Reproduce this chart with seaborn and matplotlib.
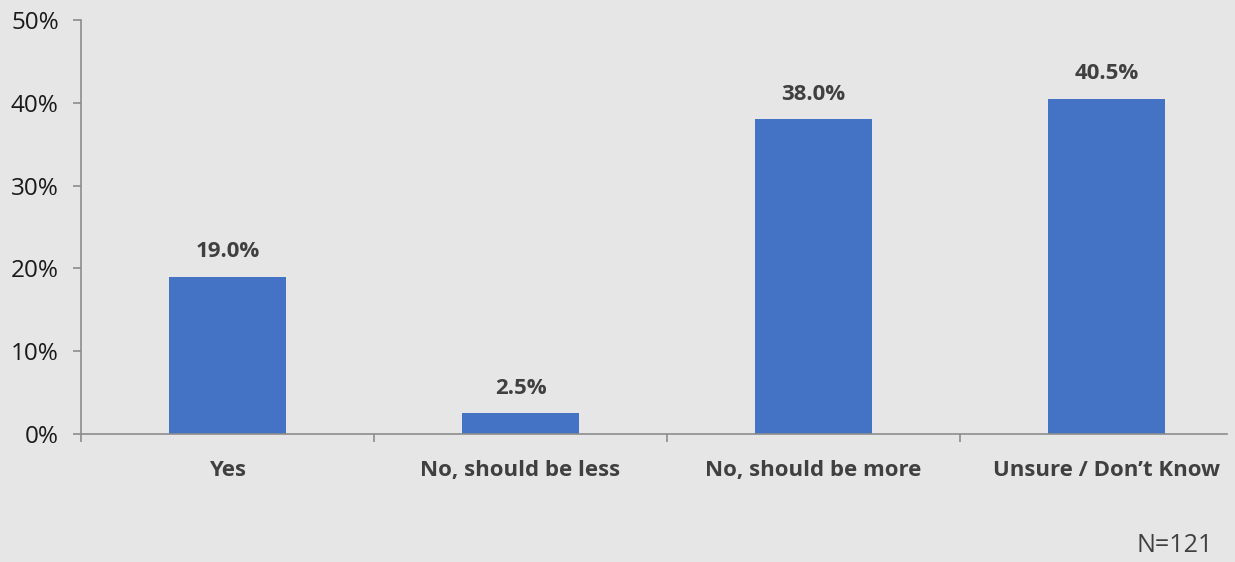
import matplotlib
matplotlib.use("Agg")
import matplotlib.pyplot as plt
import seaborn as sns
import pandas as pd
from matplotlib.ticker import FixedLocator, PercentFormatter

categories = ["Yes", "No, should be less", "No, should be more", "Unsure / Don\u2019t Know"]
values = [19.0, 2.5, 38.0, 40.5]
value_labels = ["19.0%", "2.5%", "38.0%", "40.5%"]
y_ticks = [0, 10, 20, 30, 40, 50]
note = "N=121"

sns.set_theme(style="white")
plt.rcParams["font.family"] = ["Open Sans", "DejaVu Sans"]

bg = "#e6e6e6"
fig = plt.figure(figsize=(12.35, 5.62), dpi=100, facecolor=bg)
ax = fig.add_axes([81/1235, 1-434/562, (1227-81)/1235, (434-20)/562])
ax.set_facecolor(bg)

df = pd.DataFrame({"cat": categories, "val": values})
sns.barplot(data=df, x="cat", y="val", color="#4472C4", width=0.4, saturation=1,
            linewidth=0, edgecolor="none", ax=ax)

ax.set_xlim(-0.5, 3.411)
ax.set_ylim(0, 50)
ax.set_yticks(y_ticks)
ax.yaxis.set_major_formatter(PercentFormatter(decimals=0))
ax.set_xlabel("")
ax.set_ylabel("")

for s in ["top", "right"]:
    ax.spines[s].set_visible(False)
for s in ["left", "bottom"]:
    ax.spines[s].set_color("#8c8c8c")
    ax.spines[s].set_linewidth(1.2)

ax.tick_params(axis="y", which="major", length=6, width=1.2, color="#8c8c8c",
               labelsize=17.5, labelcolor="#1a1a1a", pad=10, left=True)
ax.tick_params(axis="x", which="major", length=0, labelsize=16, labelcolor="#404040", pad=18.5)
ax.xaxis.set_minor_locator(FixedLocator([-0.5, 0.5, 1.5, 2.5]))
ax.tick_params(axis="x", which="minor", length=6, width=1.2, color="#8c8c8c", bottom=True)
for lbl in ax.get_xticklabels():
    lbl.set_fontweight("bold")

for i, (v, t) in enumerate(zip(values, value_labels)):
    ax.annotate(t, (i, v), xytext=(0, 14), textcoords="offset points",
                ha="center", va="baseline", fontsize=16, fontweight="bold", color="#404040")

fig.text(1175/1235, 1-545/562, note, ha="center", va="center", fontsize=18, color="#404040")

fig.savefig("out.png", dpi=100, facecolor=bg)
